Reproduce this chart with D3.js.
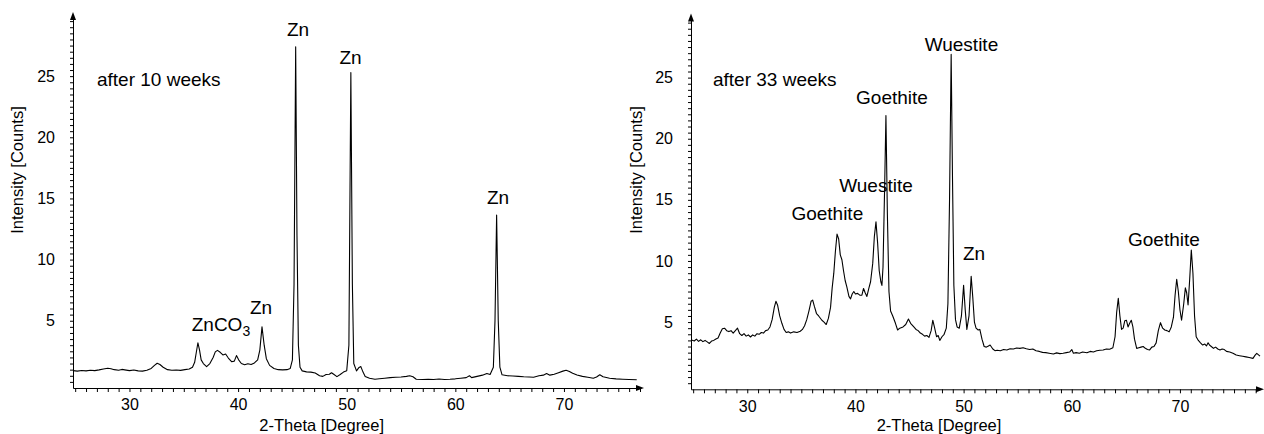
<!DOCTYPE html>
<html><head><meta charset="utf-8">
<script src="https://cdn.jsdelivr.net/npm/d3@7"></script>
<style>
body{margin:0;background:#fff;}
svg{display:block;font-family:"Liberation Sans",Arial,Helvetica,sans-serif;}
</style></head><body>
<svg id="chart" width="1264" height="434"></svg>
<script>
// ---------- data (2-Theta [deg], Intensity [Counts]) ----------
const scan10 = [[24.8,0.92],[25.2,0.88],[25.6,0.93],[26.0,0.9],[26.4,0.95],[26.8,0.92],[27.2,0.98],[27.6,1.05],[28.0,1.12],[28.3,1.08],[28.6,1.0],[29.0,0.95],[29.3,1.02],[29.7,0.96],[30.0,0.92],[30.4,0.97],[30.8,0.9],[31.2,0.88],[31.6,0.95],[32.0,1.1],[32.3,1.35],[32.55,1.52],[32.8,1.42],[33.1,1.2],[33.5,1.0],[33.9,0.95],[34.3,0.97],[34.7,0.94],[35.1,1.0],[35.5,1.05],[35.8,1.2],[36.0,1.6],[36.15,2.4],[36.3,3.2],[36.45,2.6],[36.6,1.8],[36.8,1.5],[37.1,1.25],[37.4,1.5],[37.7,2.0],[37.9,2.45],[38.1,2.58],[38.35,2.42],[38.6,2.2],[38.85,2.28],[39.1,1.95],[39.4,1.65],[39.65,1.7],[39.85,2.15],[40.05,1.8],[40.3,1.5],[40.6,1.4],[40.9,1.48],[41.2,1.42],[41.5,1.55],[41.8,1.8],[42.0,2.6],[42.2,4.5],[42.4,3.0],[42.6,1.9],[42.9,1.35],[43.3,1.1],[43.7,1.0],[44.1,0.98],[44.5,1.0],[44.8,1.1],[45.0,1.8],[45.15,8],[45.3,27.4],[45.42,12],[45.55,3],[45.7,1.2],[45.9,0.9],[46.3,0.82],[46.7,0.8],[47.1,0.72],[47.5,0.5],[47.8,0.45],[48.1,0.6],[48.4,0.62],[48.6,0.75],[48.8,0.62],[49.1,0.43],[49.4,0.6],[49.7,0.8],[50.0,0.92],[50.2,3],[50.38,25.3],[50.52,8],[50.65,1.5],[50.9,0.9],[51.1,1.15],[51.3,1.25],[51.5,0.8],[51.7,0.45],[52.1,0.3],[52.6,0.21],[53.0,0.25],[53.5,0.3],[54.0,0.35],[54.5,0.38],[55.0,0.4],[55.5,0.45],[55.8,0.5],[56.1,0.42],[56.4,0.22],[57.0,0.2],[57.5,0.22],[58.0,0.2],[58.5,0.23],[59.0,0.2],[59.5,0.22],[60.0,0.25],[60.5,0.3],[61.0,0.35],[61.3,0.5],[61.5,0.35],[62.0,0.45],[62.5,0.55],[62.9,0.68],[63.2,0.6],[63.5,1.2],[63.65,5],[63.8,13.65],[63.95,5],[64.1,1.2],[64.3,0.58],[64.8,0.5],[65.3,0.48],[65.8,0.45],[66.3,0.42],[66.8,0.4],[67.2,0.38],[67.7,0.5],[68.1,0.55],[68.4,0.68],[68.7,0.55],[69.1,0.62],[69.5,0.75],[69.9,0.88],[70.2,0.95],[70.5,0.85],[70.8,0.7],[71.2,0.56],[71.7,0.45],[72.2,0.38],[72.7,0.3],[73.0,0.4],[73.3,0.58],[73.6,0.42],[74.2,0.3],[74.8,0.25],[75.4,0.22],[76.0,0.2],[76.7,0.17]];

const scan33 = [[24.85,3.53],[25.1,3.45],[25.3,3.6],[25.5,3.42],[25.7,3.55],[25.9,3.4],[26.1,3.5],[26.3,3.38],[26.5,3.25],[26.7,3.45],[26.9,3.5],[27.1,3.62],[27.3,3.7],[27.5,4.1],[27.7,4.45],[27.9,4.5],[28.1,4.3],[28.3,4.22],[28.5,4.3],[28.7,4.1],[28.9,4.3],[29.1,4.5],[29.3,4.05],[29.5,3.9],[29.7,4.05],[29.9,3.85],[30.1,3.95],[30.3,3.78],[30.5,3.95],[30.7,3.85],[30.9,4.05],[31.1,4.0],[31.3,4.15],[31.5,4.1],[31.7,4.3],[31.9,4.35],[32.1,4.6],[32.3,5.2],[32.5,6.2],[32.65,6.7],[32.8,6.4],[33.0,5.5],[33.2,4.9],[33.4,4.4],[33.6,4.15],[33.8,4.2],[34.0,4.1],[34.3,4.2],[34.6,4.15],[34.9,4.25],[35.1,4.4],[35.3,4.7],[35.5,5.2],[35.7,5.9],[35.9,6.7],[36.05,6.8],[36.2,6.3],[36.4,5.7],[36.6,5.5],[36.9,5.15],[37.1,5.0],[37.3,4.8],[37.5,5.3],[37.7,6.2],[37.85,7.8],[38.0,9.0],[38.15,10.8],[38.3,12.2],[38.45,11.8],[38.6,10.5],[38.75,10.1],[38.9,9.2],[39.05,8.4],[39.2,7.9],[39.4,7.1],[39.55,6.9],[39.7,7.3],[39.85,7.5],[40.0,7.3],[40.2,7.35],[40.4,7.2],[40.6,7.2],[40.75,7.75],[40.9,7.4],[41.06,7.1],[41.25,7.8],[41.4,8.3],[41.6,9.8],[41.75,12],[41.9,13.2],[42.05,11.5],[42.2,9.2],[42.35,8.3],[42.45,8.0],[42.55,9.5],[42.7,16],[42.82,21.9],[42.95,14],[43.1,7.5],[43.25,5.9],[43.45,5.5],[43.7,4.9],[43.9,4.35],[44.1,4.5],[44.4,4.6],[44.65,4.8],[44.9,5.25],[45.1,4.9],[45.4,4.6],[45.6,4.4],[45.8,4.3],[46.0,4.1],[46.2,4.0],[46.4,3.85],[46.6,3.9],[46.8,3.75],[47.0,4.3],[47.15,5.15],[47.3,4.6],[47.5,3.8],[47.65,3.9],[47.8,3.5],[48.0,3.8],[48.2,4.0],[48.4,4.5],[48.55,6.5],[48.7,15],[48.85,26.9],[48.97,17],[49.1,8],[49.25,5.2],[49.4,4.6],[49.6,4.5],[49.8,5.5],[50.0,8.0],[50.15,6.0],[50.3,4.4],[50.5,5.5],[50.7,8.75],[50.85,7.0],[51.0,5.0],[51.15,4.5],[51.35,4.35],[51.5,4.4],[51.7,3.6],[51.9,3.0],[52.1,2.95],[52.3,3.05],[52.45,3.12],[52.7,2.8],[52.9,2.66],[53.1,2.7],[53.4,2.65],[53.7,2.75],[54.0,2.72],[54.3,2.82],[54.6,2.8],[54.9,2.88],[55.2,2.85],[55.5,2.9],[55.8,2.82],[56.1,2.75],[56.4,2.8],[56.7,2.65],[57.0,2.6],[57.3,2.52],[57.6,2.5],[57.9,2.45],[58.3,2.39],[58.6,2.48],[58.9,2.42],[59.2,2.45],[59.5,2.5],[59.8,2.55],[60.0,2.75],[60.15,2.45],[60.4,2.5],[60.7,2.45],[61.0,2.55],[61.4,2.49],[61.7,2.6],[62.0,2.55],[62.3,2.65],[62.6,2.7],[62.9,2.72],[63.2,2.8],[63.5,2.78],[63.8,2.9],[64.0,3.8],[64.15,5.8],[64.3,6.95],[64.45,5.5],[64.6,4.4],[64.75,4.5],[64.9,5.1],[65.05,5.15],[65.2,4.6],[65.35,4.9],[65.5,5.15],[65.65,4.6],[65.8,3.6],[66.0,2.85],[66.2,2.9],[66.4,2.95],[66.6,3.0],[66.8,2.85],[67.0,2.75],[67.2,2.72],[67.4,2.95],[67.6,3.0],[67.8,3.3],[68.0,4.3],[68.2,4.95],[68.4,4.5],[68.6,4.35],[68.8,4.3],[69.0,4.2],[69.2,4.6],[69.4,5.4],[69.55,7.2],[69.7,8.5],[69.85,7.5],[70.0,6.0],[70.15,5.15],[70.35,6.5],[70.5,7.8],[70.62,7.4],[70.75,6.4],[70.9,8.5],[71.05,10.9],[71.2,9.0],[71.35,5.5],[71.5,3.8],[71.7,3.5],[71.9,3.3],[72.1,3.12],[72.3,3.2],[72.45,3.05],[72.6,3.3],[72.75,3.1],[72.9,3.0],[73.1,2.85],[73.3,2.95],[73.5,2.8],[73.7,2.72],[73.9,2.8],[74.1,2.75],[74.3,2.6],[74.6,2.55],[74.9,2.45],[75.2,2.3],[75.5,2.25],[75.8,2.2],[76.1,2.15],[76.4,2.1],[76.75,2.03],[76.95,2.3],[77.1,2.44],[77.4,2.22]];

// peak annotations: [text, 2-Theta, Counts, anchor]
const labels10 = [["Zn",45.52,28.28,"middle"],["Zn",50.35,26.0,"middle"],["Zn",63.93,14.55,"middle"],["Zn",42.11,5.53,"middle"],["ZnCO3",35.73,4.19,"start"]];
const labels33 = [["Wuestite",49.8,27.16,"middle"],["Goethite",43.38,22.81,"middle"],["Wuestite",41.9,15.65,"middle"],["Goethite",37.4,13.33,"middle"],["Zn",50.96,10.07,"middle"],["Goethite",68.52,11.21,"middle"]];
const titles = ["after 10 weeks","after 33 weeks"];
const titlePos = [[27.01,24.2],[26.83,24.28]];
const xTickValues = d3.range(25, 78, 1);
const yTickValues = d3.range(0, 30, 0.5);
const xTitle = "2-Theta [Degree]";
const yTitle = "Intensity [Counts]";

// ---------- layout ----------
const panels = [
  {scan: scan10, labels: labels10, title: titles[0], tpos: titlePos[0], xr:[73,640], yr:[388,15], xd:[24.8,77.0], ytx:22.5, xtx:321.7},
  {scan: scan33, labels: labels33, title: titles[1], tpos: titlePos[1], xr:[691,1260], yr:[389.3,16.5], xd:[24.8,77.4], ytx:641.5, xtx:939}
];

const svg = d3.select("#chart");
svg.append("rect").attr("width",1264).attr("height",434).attr("fill","#fff");

panels.forEach(p => {
  const x = d3.scaleLinear().domain(p.xd).range(p.xr);
  const y = d3.scaleLinear().domain([-0.5, 30]).range(p.yr);
  const g = svg.append("g");

  // x axis
  const xa = g.append("g").attr("transform",`translate(0,${p.yr[0]})`)
    .call(d3.axisBottom(x).tickValues(xTickValues).tickSize(4).tickSizeOuter(0).tickPadding(7)
      .tickFormat(d => d % 10 === 0 ? d : ""));
  xa.selectAll("text").attr("font-size",16).attr("font-family","Liberation Sans, Arial, sans-serif").attr("fill","#000");
  xa.selectAll("line,path").attr("stroke","#000");

  // y axis
  const ya = g.append("g").attr("transform",`translate(${p.xr[0]},0)`)
    .call(d3.axisLeft(y).tickValues(yTickValues).tickSize(3).tickSizeOuter(0).tickPadding(15)
      .tickFormat(d => (d > 0 && d % 5 === 0) ? d : ""));
  ya.selectAll("text").attr("font-size",16).attr("font-family","Liberation Sans, Arial, sans-serif").attr("fill","#000");
  ya.selectAll("line,path").attr("stroke","#000");

  // arrows
  const ax = p.xr[1], ay = p.yr[0];
  g.append("path").attr("d",`M${ax+4},${ay} L${ax-4},${ay-3} L${ax-4},${ay+3} Z`).attr("fill","#000");
  const bx = p.xr[0], by = p.yr[1];
  g.append("path").attr("d",`M${bx},${by-3} L${bx-3},${by+5} L${bx+3},${by+5} Z`).attr("fill","#000");

  // axis titles
  g.append("text").attr("x",p.xtx).attr("y",430.5).attr("text-anchor","middle")
    .attr("font-size",16.5).text(xTitle);
  g.append("text").attr("transform",`translate(${p.ytx},170) rotate(-90)`).attr("text-anchor","middle")
    .attr("font-size",16.5).text(yTitle);

  // panel title
  g.append("text").attr("x",x(p.tpos[0])).attr("y",y(p.tpos[1])).attr("font-size",19).text(p.title);

  // peak labels
  p.labels.forEach(l => {
    const t = g.append("text").attr("x",x(l[1])).attr("y",y(l[2])).attr("text-anchor",l[3]).attr("font-size",19);
    if (l[0] === "ZnCO3") {
      t.append("tspan").text("ZnCO");
      t.append("tspan").attr("dy",5).attr("font-size",14).text("3");
    } else t.text(l[0]);
  });

  // scan line
  g.append("path").datum(p.scan)
    .attr("d", d3.line().x(d => x(d[0])).y(d => y(d[1])))
    .attr("fill","none").attr("stroke","#000").attr("stroke-width",1.1).attr("stroke-linejoin","round");
});
</script>
</body></html>
